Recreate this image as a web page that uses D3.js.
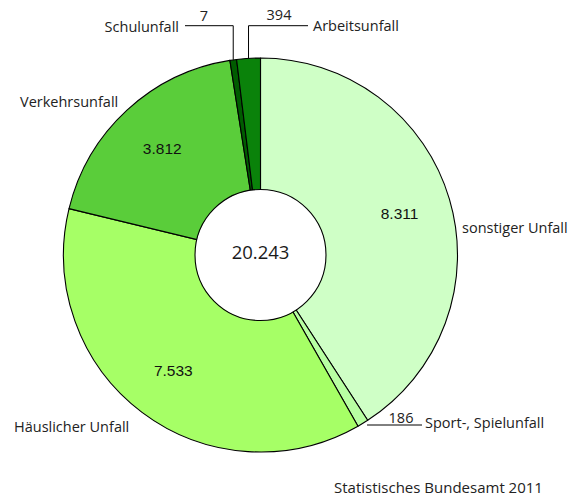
<!DOCTYPE html>
<html><head><meta charset="utf-8">
<script src="https://cdn.jsdelivr.net/npm/d3@7"></script>
<style>body{margin:0;background:#fff}svg{display:block}</style>
</head><body>
<svg id="c" width="581" height="499"></svg>
<script>
// data
const categories = ["sonstiger Unfall", "Sport-, Spielunfall", "Häuslicher Unfall", "Verkehrsunfall", "Schulunfall", "Arbeitsunfall"];
const values = [8311, 186, 7533, 3812, 7, 394];
const colors = ["#cfffc6", "#b8ffa2", "#a6ff66", "#5acd3a", "#005c00", "#0a820a"];
const totalLabel = "20.243";
const source = "Statistisches Bundesamt 2011";

const svg = d3.select("#c");
const cx = 260.5, cy = 255, R = 197, r0 = 65.5;
const total = d3.sum(values);
const fmt = v => d3.format(",")(v).replace(/,/g, ".");
const minShare = 0.0055; // keep tiny slices visible
const pie = d3.pie().sort(null).value(d => Math.max(d, total * minShare));
const arcs = pie(values);
const arc = d3.arc().innerRadius(0).outerRadius(R);
const g = svg.append("g").attr("transform", `translate(${cx},${cy})`);

g.selectAll("path.s").data(arcs).join("path")
  .attr("class", "s")
  .attr("d", arc)
  .attr("fill", (d, i) => colors[i])
  .attr("stroke", "#000").attr("stroke-width", 1.1).attr("stroke-linejoin", "round");

g.append("circle").attr("r", r0).attr("fill", "#fff").attr("stroke", "#000").attr("stroke-width", 1.1);
g.append("text").text(totalLabel).attr("text-anchor", "middle").attr("dy", "0.35em")
  .attr("font-family", "Open Sans").attr("font-size", 18.5).attr("fill", "#1a1a1a").attr("y", -2);

const labelArc = d3.arc().innerRadius(145).outerRadius(145);
const lblFont = "Open Sans", lblSize = 14.5, lblCol = "#222";

// inner value labels for big slices
arcs.forEach((d, i) => {
  if (values[i] > 1000) {
    const [x, y] = labelArc.centroid(d);
    g.append("text").text(fmt(values[i])).attr("x", x).attr("y", y).attr("dy", "0.35em")
      .attr("text-anchor", "middle").attr("font-family", "Liberation Sans, Arial").attr("font-size", 15.5).attr("fill", "#111");
  }
});

const pt = (d, rad) => { const a = (d.startAngle + d.endAngle) / 2; return [rad * Math.sin(a), -rad * Math.cos(a)]; };
const line = (pts) => g.append("path").attr("d", d3.line()(pts)).attr("fill", "none").attr("stroke", "#000").attr("stroke-width", 1);
const txt = (s, x, y, anchor, col, size, fam) => svg.append("text").text(s).attr("x", x).attr("y", y).attr("dy", "0.35em")
  .attr("text-anchor", anchor || "start").attr("font-family", fam || lblFont).attr("font-size", size || lblSize).attr("fill", col || lblCol);

const topY = 25.7 - cy;
// Schulunfall (index 4)
{
  const [x, y] = pt(arcs[4], R);
  line([[x, y], [x, topY], [185 - cx, topY]]);
  txt(fmt(values[4]), 204, 16, "middle");
  txt(categories[4], 179, 27, "end");
}
// Arbeitsunfall (index 5)
{
  const [x, y] = pt(arcs[5], R);
  line([[x, y], [x, topY], [308 - cx, topY]]);
  txt(fmt(values[5]), 279, 15, "middle");
  txt(categories[5], 313, 26, "start");
}
// Sport (index 1)
{
  const [x, y] = pt(arcs[1], R + 8);
  line([[x, 425 - cy], [422 - cx, 425 - cy]]);
  txt(fmt(values[1]), 401, 418, "middle");
  txt(categories[1], 425, 423, "start");
}
txt(categories[3], 20, 102, "start");
txt(categories[2], 14, 427, "start");
txt(categories[0], 462, 228, "start");
txt(source, 334, 488, "start", "#222", 15);
</script>
</body></html>
